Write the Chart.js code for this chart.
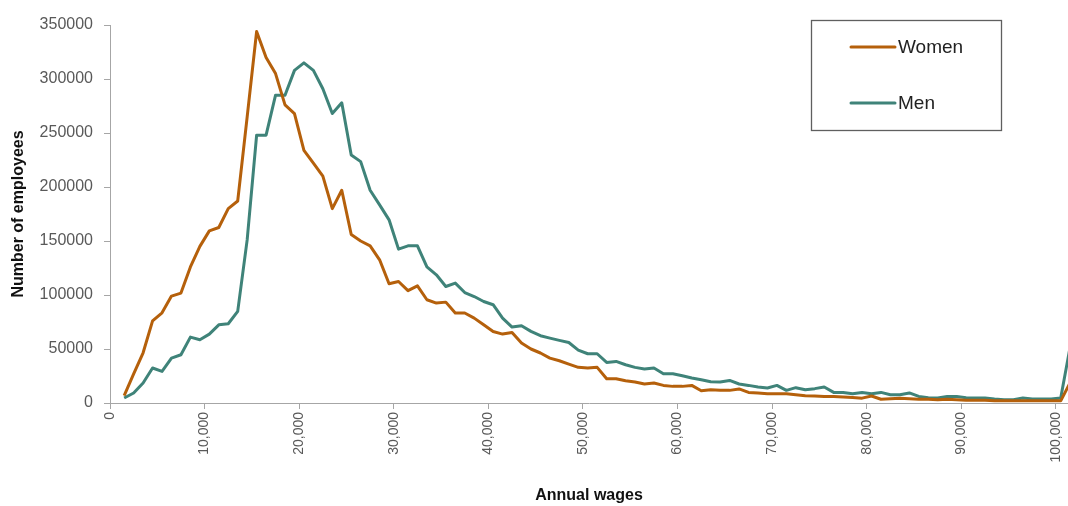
<!DOCTYPE html>
<html>
<head>
<meta charset="utf-8">
<script src="https://cdn.jsdelivr.net/npm/chart.js@4.4.1/dist/chart.umd.min.js"></script>
<style>
  html, body { margin: 0; padding: 0; background: #ffffff; }
  #wrap { position: relative; width: 1068px; height: 506px; }
</style>
</head>
<body>
<div id="wrap"><canvas id="c"></canvas></div>
<script>
// Wage bin midpoints (annual wages)
const wages = [
  1500, 2500, 3500, 4500, 5500, 6500, 7500, 8500, 9500, 10500,
  11500, 12500, 13500, 14500, 15500, 16500, 17500, 18500, 19500, 20500,
  21500, 22500, 23500, 24500, 25500, 26500, 27500, 28500, 29500, 30500,
  31500, 32500, 33500, 34500, 35500, 36500, 37500, 38500, 39500, 40500,
  41500, 42500, 43500, 44500, 45500, 46500, 47500, 48500, 49500, 50500,
  51500, 52500, 53500, 54500, 55500, 56500, 57500, 58500, 59500, 60500,
  61500, 62500, 63500, 64500, 65500, 66500, 67500, 68500, 69500, 70500,
  71500, 72500, 73500, 74500, 75500, 76500, 77500, 78500, 79500, 80500,
  81500, 82500, 83500, 84500, 85500, 86500, 87500, 88500, 89500, 90500,
  91500, 92500, 93500, 94500, 95500, 96500, 97500, 98500, 99500, 100500,
  101500
];

const women = [
  6800, 27000, 46500, 76000, 83500, 99000, 101800, 126000, 145000, 159400,
  162500, 180000, 187000, 265000, 344000, 320000, 305000, 276000, 268000, 234000,
  222000, 210000, 180000, 197000, 156000, 150000, 145500, 132600, 110400, 112500,
  104000, 108500, 95600, 92500, 93400, 83300, 83300, 78600, 72400, 66200,
  63800, 65300, 55500, 50000, 46300, 41600, 39100, 36000, 33000, 32400,
  33000, 22500, 22500, 20600, 19400, 17600, 18500, 16300, 15400, 15400,
  16300, 11400, 12300, 11700, 11700, 13000, 9800, 9300, 8600, 8600,
  8600, 7700, 6800, 6500, 6100, 6000, 5500, 5000, 4500, 6500,
  3500, 4000, 4500, 4000, 3500, 3500, 3000, 3500, 3000, 2500,
  2500, 2500, 2000, 2000, 2000, 2000, 2000, 2000, 2000, 2000,
  19000
];

const men = [
  4600, 9300, 18500, 32400, 29200, 41600, 44700, 61000, 58600, 63800,
  72400, 73400, 84800, 151000, 248000, 248000, 285000, 285000, 308000, 315000,
  308000, 291000, 268000, 278000, 229700, 223500, 197000, 183500, 169600, 142500,
  145500, 145500, 126000, 118700, 107900, 111000, 102300, 98600, 94000, 91000,
  78600, 70300, 71500, 66300, 62300, 60100, 58000, 56000, 49000, 45600,
  45600, 37600, 38500, 35400, 33000, 31500, 32400, 27100, 27000, 25300,
  23100, 21600, 19700, 19500, 20900, 17600, 16300, 14800, 13900, 16300,
  11700, 14200, 12300, 13300, 14800, 9800, 9800, 8600, 9800, 8600,
  9800, 7700, 7700, 9300, 6100, 4900, 4600, 6100, 6100, 4900,
  4600, 4600, 3700, 3100, 3100, 4600, 3700, 3700, 3700, 4600,
  52000
];

const xTickValues = [0, 10000, 20000, 30000, 40000, 50000, 60000, 70000, 80000, 90000, 100000];
const yTickValues = [0, 50000, 100000, 150000, 200000, 250000, 300000, 350000];
const seriesNames = ['Women', 'Men'];
const seriesColors = ['#B5600B', '#3F8379'];

const toPoints = (vals) => vals.map((v, i) => ({ x: wages[i], y: v }));

const legendPlugin = {
  id: 'boxLegend',
  afterDraw(chart) {
    const ctx = chart.ctx;
    ctx.save();
    ctx.strokeStyle = '#5f5f5f';
    ctx.lineWidth = 1.3;
    ctx.strokeRect(811.5, 20.5, 190, 110);
    const rows = [47, 103];
    ctx.font = '19px "Liberation Sans", Arial, sans-serif';
    ctx.textBaseline = 'middle';
    ctx.textAlign = 'left';
    seriesNames.forEach((name, i) => {
      ctx.strokeStyle = seriesColors[i];
      ctx.lineWidth = 3;
      ctx.lineCap = 'round';
      ctx.beginPath();
      ctx.moveTo(851, rows[i]);
      ctx.lineTo(895, rows[i]);
      ctx.stroke();
      ctx.fillStyle = '#222222';
      ctx.fillText(name, 898, rows[i] + 1);
    });
    ctx.restore();
  }
};

new Chart(document.getElementById('c'), {
  type: 'line',
  data: {
    datasets: [
      { label: seriesNames[0], data: toPoints(women), borderColor: seriesColors[0], backgroundColor: seriesColors[0],
        borderWidth: 3, pointRadius: 0, tension: 0, borderJoinStyle: 'round', fill: false },
      { label: seriesNames[1], data: toPoints(men), borderColor: seriesColors[1], backgroundColor: seriesColors[1],
        borderWidth: 3, pointRadius: 0, tension: 0, borderJoinStyle: 'round', fill: false }
    ]
  },
  options: {
    responsive: true,
    maintainAspectRatio: false,
    animation: false,
    devicePixelRatio: 1,
    layout: { padding: { top: 25, right: 0, bottom: 0, left: 0 } },
    plugins: { legend: { display: false }, tooltip: { enabled: false } },
    scales: {
      x: {
        type: 'linear',
        min: 0,
        max: 101270,
        afterBuildTicks(scale) { scale.ticks = xTickValues.map(v => ({ value: v })); },
        afterFit(scale) { scale.height = 103; scale.paddingRight = 0; scale.paddingLeft = 0; },
        ticks: {
          autoSkip: false,
          maxRotation: 90,
          minRotation: 90,
          padding: 3,
          color: '#595959',
          font: { family: '"Liberation Sans", Arial, sans-serif', size: 14 },
          callback: (v) => Number(v).toLocaleString('en-US')
        },
        grid: { display: true, drawOnChartArea: false, drawTicks: true, tickLength: 6, color: '#A6A6A6', lineWidth: 1 },
        border: { display: true, color: '#A6A6A6', width: 1 },
        title: {
          display: true,
          text: 'Annual wages',
          color: '#111111',
          font: { family: '"Liberation Sans", Arial, sans-serif', size: 16, weight: 'bold' },
          padding: { top: 0, bottom: 1 }
        }
      },
      y: {
        type: 'linear',
        min: 0,
        max: 350000,
        afterBuildTicks(scale) { scale.ticks = yTickValues.map(v => ({ value: v })); },
        afterFit(scale) { scale.width = 110; scale.paddingTop = 0; scale.paddingBottom = 0; },
        ticks: {
          padding: 11,
          color: '#595959',
          font: { family: '"Liberation Sans", Arial, sans-serif', size: 16 },
          callback: (v) => String(v)
        },
        grid: { display: true, drawOnChartArea: false, drawTicks: true, tickLength: 6, color: '#A6A6A6', lineWidth: 1 },
        border: { display: true, color: '#A6A6A6', width: 1 },
        title: {
          display: true,
          text: 'Number of employees',
          color: '#111111',
          font: { family: '"Liberation Sans", Arial, sans-serif', size: 16, weight: 'bold' },
          padding: { top: 9, bottom: 0 }
        }
      }
    }
  },
  plugins: [legendPlugin]
});
</script>
</body>
</html>
